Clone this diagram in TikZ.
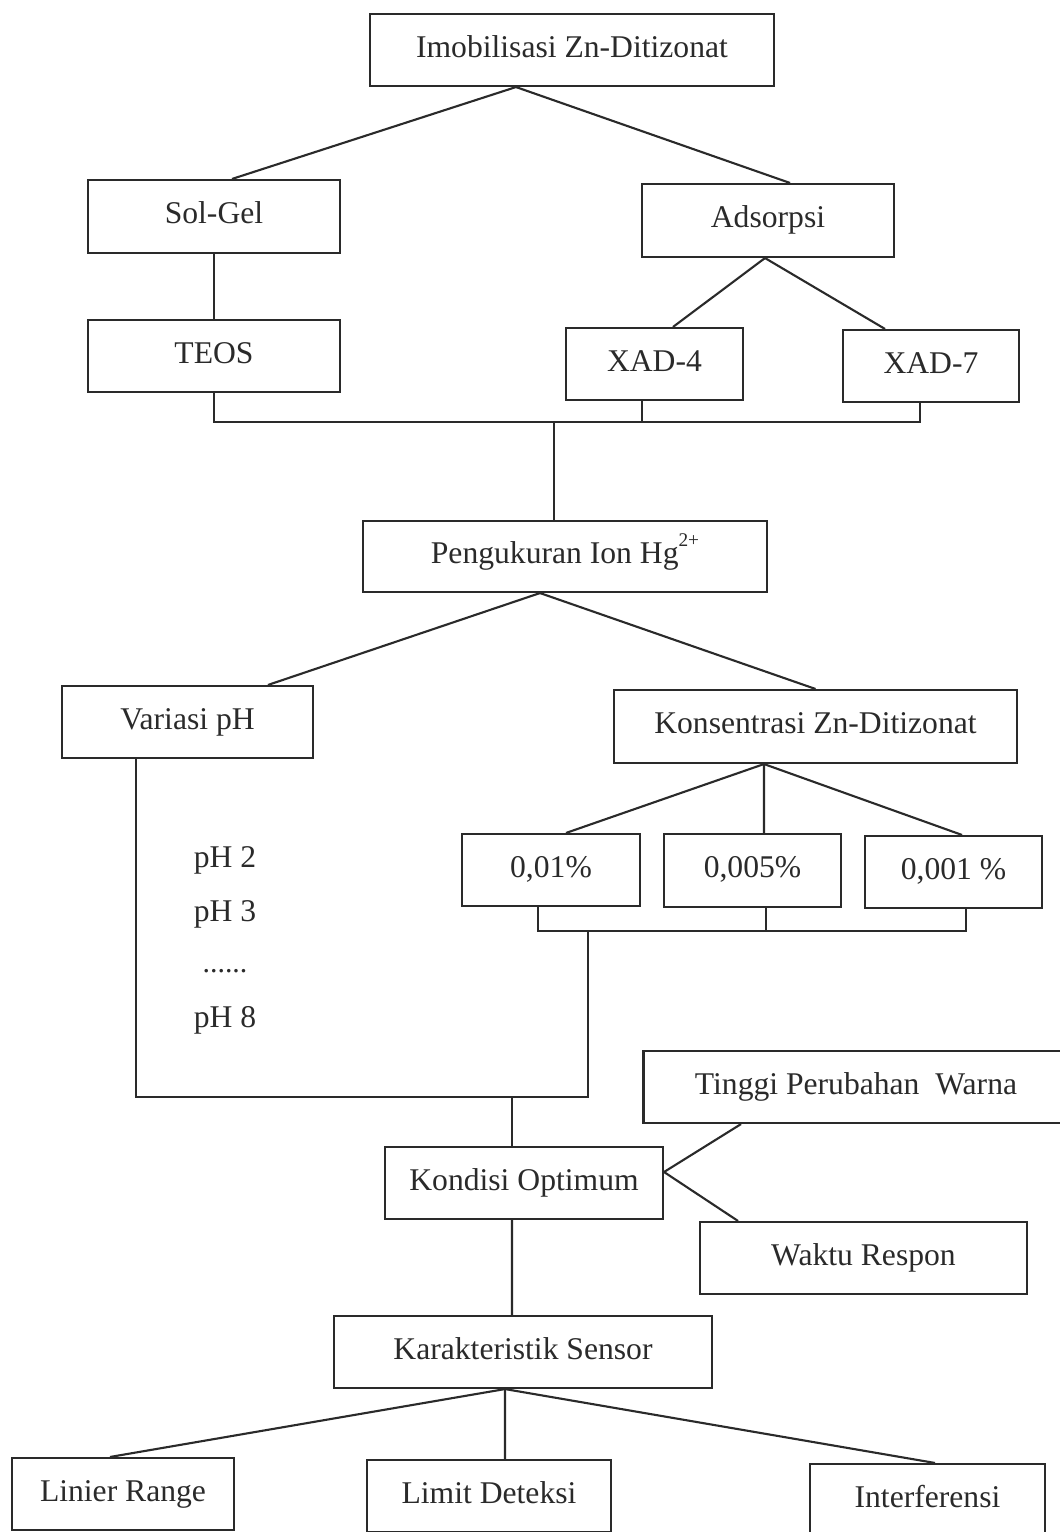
\documentclass[tikz,border=0pt]{standalone}
\usepackage{fontspec}
\setmainfont{Liberation Serif}
\definecolor{ink}{HTML}{2A2A2A}
\begin{document}
\begin{tikzpicture}[x=0.02cm,y=-0.02cm,
  box/.style={draw=ink,line width=1.2pt,minimum height=1.44cm,inner sep=0pt,
    text=ink,font=\fontsize{18}{20}\selectfont,text height=12pt,text depth=4pt},
  lbl/.style={text=ink,font=\fontsize{18}{20}\selectfont,inner sep=0pt},
  ln/.style={draw=ink,line width=1.2pt}]
\useasboundingbox (0,0) rectangle (1059,1532);
% boxes
\node[box,minimum width=8.08cm] (imo) at (572,50) {Imobilisasi Zn-Ditizonat};
\node[box,minimum width=5.04cm,minimum height=1.46cm] (sol) at (214,216.5) {Sol-Gel};
\node[box,minimum width=5.04cm,minimum height=1.46cm] (ads) at (768,220.5) {Adsorpsi};
\node[box,minimum width=5.04cm] (teos) at (214,356) {TEOS};
\node[box,minimum width=3.54cm] (xad4) at (654.5,364) {XAD-4};
\node[box,minimum width=3.52cm] (xad7) at (931,366) {XAD-7};
\node[box,minimum width=8.08cm,minimum height=1.42cm] (peng) at (565,556.5) {Pengukuran Ion Hg\raisebox{0.55em}{\fontsize{11}{12}\selectfont 2+}};
\node[box,minimum width=5.02cm] (var) at (187.5,722) {Variasi pH};
\node[box,minimum width=8.06cm,minimum height=1.46cm] (kons) at (815.5,726.5) {Konsentrasi Zn-Ditizonat};
\node[box,minimum width=3.56cm] (c1) at (551,870) {0,01\%};
\node[box,minimum width=3.54cm,minimum height=1.46cm] (c2) at (752.5,870.5) {0,005\%};
\node[box,minimum width=3.54cm] (c3) at (953.5,872) {0,001 \%};
\node[lbl] (p2) at (225,860) {pH 2};
\node[lbl] (p3) at (225,914) {pH 3};
\node[lbl,font=\fontsize{17}{18}\selectfont] (pd) at (225,971) {......};
\node[lbl] (p8) at (225,1020) {pH 8};
\node[box,minimum width=8.5cm] (ting) at (856,1087) {Tinggi Perubahan\ \ Warna};
\node[box,minimum width=5.56cm] (kond) at (524,1183) {Kondisi Optimum};
\node[box,minimum width=6.54cm] (wakt) at (863.5,1258) {Waktu Respon};
\node[box,minimum width=7.56cm] (kar) at (523,1352) {Karakteristik Sensor};
\node[box,minimum width=4.44cm] (lin) at (123,1494) {Linier Range};
\node[box,minimum width=4.88cm] (lim) at (489,1496) {Limit Deteksi};
\node[box,minimum width=4.70cm] (intf) at (927.5,1500) {Interferensi};
% coordinates for buses
\coordinate (busA) at (554,422);
\coordinate (busB) at (588,931);
\coordinate (busC) at (588,1097);
\coordinate (join) at (512,1097);
% connectors
\draw[ln] ([xshift=-1.12cm]imo.south) -- ([xshift=0.36cm]sol.north);
\draw[ln] ([xshift=-1.12cm]imo.south) -- ([xshift=0.44cm]ads.north);
\draw[ln] (sol.south) -- (teos.north);
\draw[ln] ([xshift=-0.06cm]ads.south) -- ([xshift=0.37cm]xad4.north);
\draw[ln] ([xshift=-0.06cm]ads.south) -- ([xshift=-0.92cm]xad7.north);
\draw[ln] (teos.south) -- (teos.south |- busA) -- ([xshift=-0.22cm]xad7.south |- busA) -- ([xshift=-0.22cm]xad7.south);
\draw[ln] ([xshift=-0.25cm]xad4.south) -- ([xshift=-0.25cm]xad4.south |- busA);
\draw[ln] (busA) -- (busA |- peng.north);
\draw[ln] ([xshift=-0.5cm]peng.south) -- ([xshift=1.61cm]var.north);
\draw[ln] ([xshift=-0.5cm]peng.south) -- (kons.north);
\draw[ln] ([xshift=-1.03cm]kons.south) -- ([xshift=0.3cm]c1.north);
\draw[ln] ([xshift=-1.03cm]kons.south) -- ([xshift=0.23cm]c2.north);
\draw[ln] ([xshift=-1.03cm]kons.south) -- ([xshift=0.17cm]c3.north);
\draw[ln] ([xshift=-0.26cm]c1.south) -- ([xshift=-0.26cm]c1.south |- busB) -- ([xshift=0.25cm]c3.south |- busB) -- ([xshift=0.25cm]c3.south);
\draw[ln] ([xshift=0.27cm]c2.south) -- ([xshift=0.27cm]c2.south |- busB);
\draw[ln] (busB) -- (busC) -- ([xshift=-1.03cm]var.south |- busC) -- ([xshift=-1.03cm]var.south);
\draw[ln] (join) -- (join |- kond.north);
\draw[ln] ([yshift=0.22cm]kond.east) -- ([xshift=-2.3cm]ting.south);
\draw[ln] ([yshift=0.22cm]kond.east) -- ([xshift=-2.51cm]wakt.north);
\draw[ln] ([xshift=-0.24cm]kond.south) -- ([xshift=-0.22cm]kar.north);
\draw[ln] ([xshift=-0.36cm]kar.south) -- ([xshift=-0.26cm]lin.north);
\draw[ln] ([xshift=-0.36cm]kar.south) -- ([xshift=0.32cm]lim.north);
\draw[ln] ([xshift=-0.36cm]kar.south) -- ([xshift=0.15cm]intf.north);
\end{tikzpicture}
\end{document}
